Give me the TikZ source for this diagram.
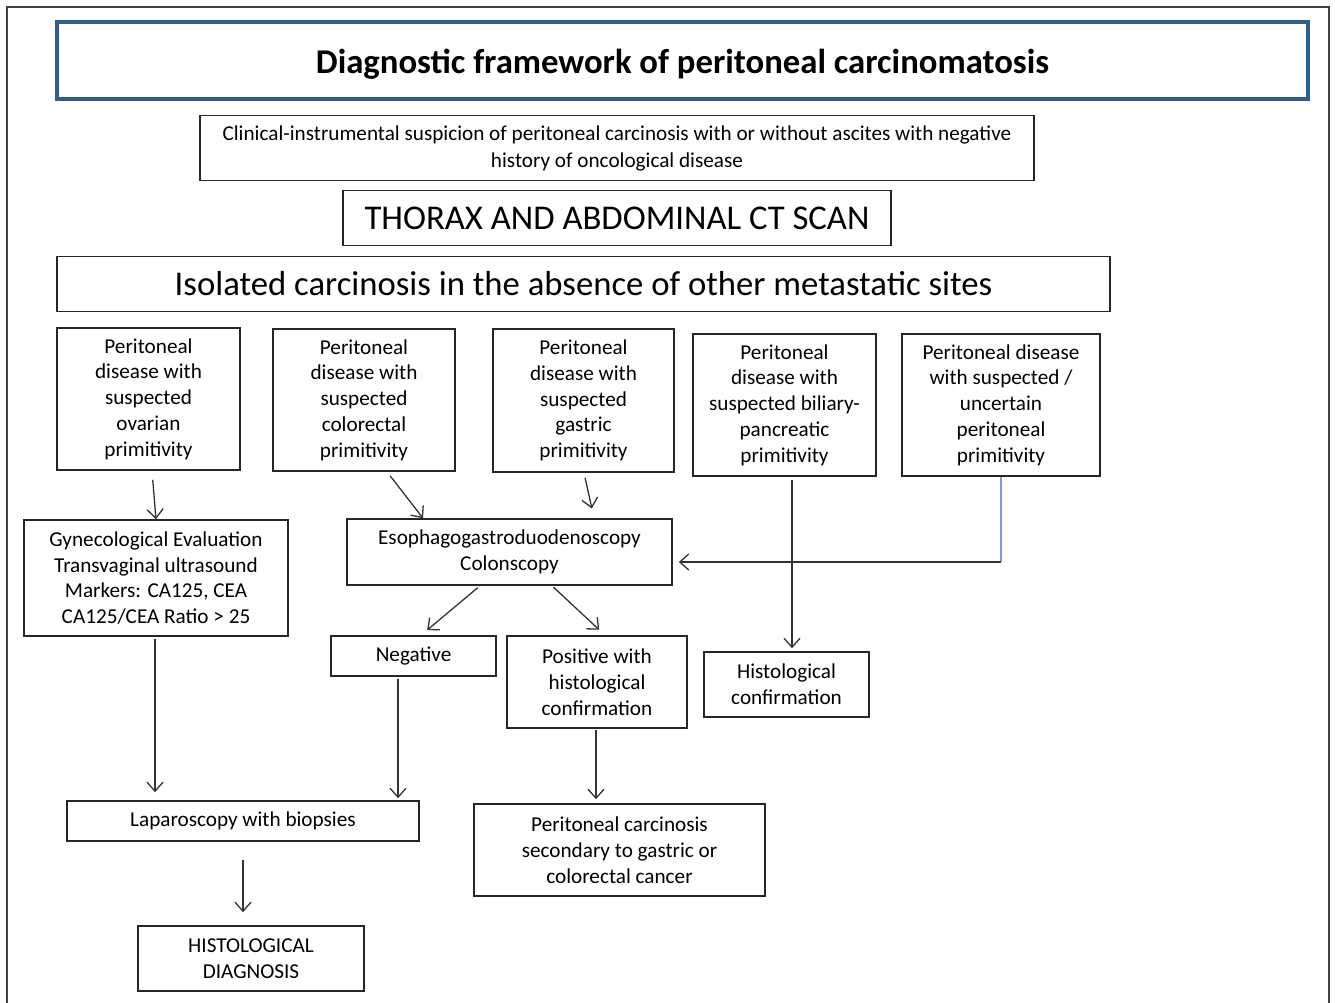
\documentclass[tikz,border=0pt]{standalone}
\usepackage{fontspec}
\setmainfont{Carlito}
\usetikzlibrary{
    positioning,
    arrows.meta
    }
\definecolor{titleblue}{RGB}{47,93,140}
\definecolor{linkblue}{RGB}{120,160,210}

\begin{document}
\begin{tikzpicture}[x=1pt, y=-1pt]
% chktex-file 1
\tikzset{box/.style =
        {
            rectangle,
            draw=black!85,
            line width=1.6pt,
            align=center,
            inner sep=0pt,
            font=\fontsize{21.2}{25.8}\selectfont
        }
}

\tikzset{titlebox/.style =
        {
            box,
            draw=titleblue,
            line width=3.5pt,
            text height=33pt,
            text depth=6pt,
            font=\fontsize{34.7}{40}\selectfont\bfseries
        }
}

\tikzset{bigbox/.style =
        {
            box,
            font=\fontsize{34.7}{40}\selectfont
        }
}

\tikzset{flow/.style = {
            line width=1.3pt,
            draw=black!80,
            -{Straight Barb[length=9pt, width=16pt]}
        }
}

\useasboundingbox (0,0) rectangle (1335,1003);
\draw[line width=2pt, black!75] (7,1003) -- (7,7) -- (1329,7) -- (1329,1003);

\node[titlebox, minimum width=1251pt, minimum height=77pt] (title) at (682.5,60.5)
    {Diagnostic framework of peritoneal carcinomatosis};
\node[box, minimum width=834pt, minimum height=65pt, font=\fontsize{21.2}{27}\selectfont] (suspicion) at (617,148)
    {Clinical-instrumental suspicion of peritoneal carcinosis with or without ascites with negative\\history of oncological disease};
\node[bigbox, minimum width=548pt, minimum height=55pt] (ct) at (617,218)
    {THORAX AND ABDOMINAL CT SCAN};
\node[bigbox, minimum width=1053pt, minimum height=55pt] (isolated) at (583.5,284)
    {Isolated carcinosis in the absence of other metastatic sites};

% suspected primitivity
\node[box, minimum width=183pt, minimum height=142pt] (ovarian) at (148.5,399)
    {Peritoneal\\disease with\\suspected\\ovarian\\primitivity};
\node[box, minimum width=182pt, minimum height=142pt] (colorectal) at (364,400)
    {Peritoneal\\disease with\\suspected\\colorectal\\primitivity};
\node[box, minimum width=181pt, minimum height=143pt] (gastric) at (583.5,400.5)
    {Peritoneal\\disease with\\suspected\\gastric\\primitivity};
\node[box, minimum width=183pt, minimum height=142pt] (biliary) at (784.5,405)
    {Peritoneal\\disease with\\suspected biliary-\\pancreatic\\primitivity};
\node[box, minimum width=198pt, minimum height=142pt] (uncertain) at (1001,405)
    {Peritoneal disease\\with suspected /\\uncertain\\peritoneal\\primitivity};

% work-up
\node[box, minimum width=264pt, minimum height=116pt] (gyn) at (156,578)
    {Gynecological Evaluation\\Transvaginal ultrasound\\Markers: CA125, CEA\\CA125/CEA Ratio > 25};
\node[box, minimum width=325pt, minimum height=66pt] (egd) at (509.5,552)
    {Esophagogastroduodenoscopy\\Colonscopy};
\node[box, minimum width=165pt, minimum height=40pt] (negative) at (413.5,656)
    {Negative};
\node[box, minimum width=180pt, minimum height=92pt] (positive) at (597,682)
    {Positive with\\histological\\confirmation};
\node[box, minimum width=165pt, minimum height=65pt] (confirm) at (786.5,684.5)
    {Histological\\confirmation};

% outcome
\node[box, minimum width=352pt, minimum height=40pt] (lap) at (243,821)
    {Laparoscopy with biopsies};
\node[box, minimum width=291pt, minimum height=92pt] (secondary) at (619.5,850)
    {Peritoneal carcinosis\\secondary to gastric or\\colorectal cancer};
\node[box, minimum width=226pt, minimum height=65pt] (diagnosis) at (251,958.5)
    {HISTOLOGICAL\\DIAGNOSIS};

\coordinate (bend) at (1001,562);

\draw[flow, shorten <=9pt] ([xshift=3.5pt]ovarian.south) -- (gyn.north);
\draw[flow, shorten <=5pt] ([xshift=23pt]colorectal.south) -- ([xshift=-86.5pt]egd.north);
\draw[flow, shorten <=5pt, shorten >=10pt] ([xshift=0.5pt]gastric.south) -- ([xshift=84.5pt]egd.north);
\draw[flow, shorten <=3pt, shorten >=8pt] ([xshift=-29.5pt]egd.south) -- ([xshift=7.5pt]negative.north);
\draw[flow, shorten <=2pt, shorten >=8pt] ([xshift=42.5pt]egd.south) -- ([xshift=8pt]positive.north);
\draw[flow, shorten <=3pt, shorten >=3pt] ([xshift=7.5pt]biliary.south) -- ([xshift=7.5pt]biliary.south |- confirm.north);
\draw[line width=1.3pt, linkblue] (uncertain.south) -- (bend);
\draw[flow, shorten >=6pt] (bend) -- (bend -| egd.east);
\draw[flow, shorten <=2pt, shorten >=8pt] ([xshift=-1pt]gyn.south) -- ([xshift=-1pt]gyn.south |- lap.north);
\draw[flow, shorten <=2pt, shorten >=2pt] ([xshift=-15.5pt]negative.south) -- ([xshift=-15.5pt]negative.south |- lap.north);
\draw[flow, shorten <=1pt, shorten >=4pt] ([xshift=-1pt]positive.south) -- ([xshift=-1pt]positive.south |- secondary.north);
\draw[flow, shorten <=18pt, shorten >=13pt] (lap.south) -- (lap.south |- diagnosis.north);

\end{tikzpicture}
\end{document}
